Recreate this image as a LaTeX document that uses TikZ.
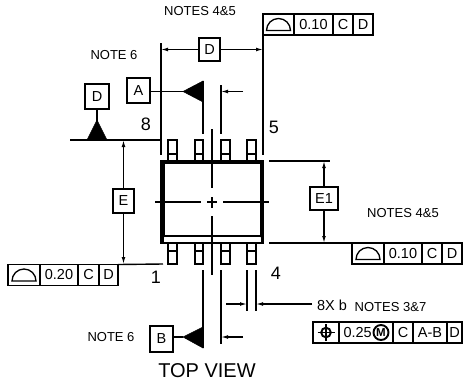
\documentclass[tikz,border=0pt]{standalone}
\usepackage{fontspec}
\setmainfont{Liberation Sans}
\usetikzlibrary{arrows.meta}
\tikzset{
  every node/.style={outer sep=0pt},
  lab/.style={inner sep=0pt,font=\fontsize{#1}{#1}\selectfont},
  lab/.default=13,
  cell/.style={draw,line width=1.3pt,inner sep=0pt,minimum height=21pt,anchor=west,font=\fontsize{14.5}{15}\selectfont},
  datum/.style={draw,line width=1.4pt,inner sep=0pt,font=\fontsize{14.5}{15}\selectfont},
  ext/.style={line width=1.4pt},
  thk/.style={line width=1.7pt},
  dim/.style={line width=1.2pt,-{Latex[length=7pt,width=3.8pt]}},
  plainl/.style={line width=1.3pt},
  lead/.style={draw,line width=1.2pt},
}
\newcommand{\semi}[2]{\draw[line width=1.3pt] ([xshift=-12pt,yshift=-6pt]#1) arc[start angle=180,end angle=0,radius=12pt] -- cycle;}
\begin{document}
\begin{tikzpicture}[x=1pt,y=-1pt]
\useasboundingbox (0,0) rectangle (463,381);
% package body
\draw[line width=1.8pt] (161,161) rectangle (263,243);
\draw[line width=1.3pt] (164,163) rectangle (261,236);
\draw[line width=2pt] (162.5,161) -- (162.5,243) (262,161) -- (262,243);
\draw[line width=1pt] (164,236) -- (161,243) (261,236) -- (263,243);
% leads
\foreach \a/\b in {168/177,195/203,221/230,247/256}{
  \draw[lead] (\a,161) -- (\a,140) -- (\b,140) -- (\b,161) (\a,154) -- (\b,154);
  \draw[lead] (\a,243) -- (\a,264) -- (\b,264) -- (\b,243) (\a,251) -- (\b,251);
}
% centre lines
\draw[plainl] (212,129) -- (212,188) (212,197) -- (212,208) (212,216) -- (212,275);
\draw[plainl] (155,202) -- (201,202) (207,202) -- (217,202) (223,202) -- (269,202);

% datum nodes
\node[datum,minimum width=21pt,minimum height=23pt] (D) at (209.5,49.5) {D};
\node[datum,minimum width=23pt,minimum height=25pt] (A) at (138.5,90.5) {A};
\node[datum,minimum width=24pt,minimum height=25pt] (DL) at (97,96.5) {D};
\node[datum,minimum width=21pt,minimum height=24pt] (E) at (123.5,201) {E};
\node[datum,minimum width=28pt,minimum height=23pt] (E1) at (324,198.5) {E1};
\node[datum,minimum width=23pt,minimum height=26pt] (B) at (161.5,339) {B};

% top FCF
\node[cell,minimum width=31pt] (t1) at (263,24.5) {};
\node[cell,minimum width=39pt] (t2) at (t1.east) {0.10};
\node[cell,minimum width=20pt] (t3) at (t2.east) {C};
\node[cell,minimum width=20pt] (t4) at (t3.east) {D};
\semi{t1.center}{}
% right FCF
\node[cell,minimum width=32pt] (r1) at (352,253.5) {};
\node[cell,minimum width=38pt] (r2) at (r1.east) {0.10};
\node[cell,minimum width=20pt] (r3) at (r2.east) {C};
\node[cell,minimum width=20pt] (r4) at (r3.east) {D};
\semi{r1.center}{}
% left FCF
\node[cell,minimum width=32pt] (l1) at (8,275) {};
\node[cell,minimum width=38pt] (l2) at (l1.east) {0.20};
\node[cell,minimum width=21pt] (l3) at (l2.east) {C};
\node[cell,minimum width=19pt] (l4) at (l3.east) {D};
\semi{l1.center}{}
% position FCF
\node[cell,minimum width=26pt] (p1) at (313,332.5) {};
\node[cell,minimum width=54pt,align=left] (p2) at (p1.east) {};
\node[cell,minimum width=20pt] (p3) at (p2.east) {C};
\node[cell,minimum width=34pt] (p4) at (p3.east) {A-B};
\node[cell,minimum width=15pt] (p5) at (p4.east) {D};
\node[lab=14.5,anchor=west] (p2t) at ([xshift=4.5pt]p2.west) {0.25};
\node[draw,circle,line width=1.9pt,inner sep=0pt,minimum size=15pt,font=\fontsize{11.5}{12}\selectfont\bfseries] (pm) at (381,332.5) {M};
\draw[line width=1.9pt] (p1.center) circle[radius=4.8pt];
\draw[line width=1.9pt] ([xshift=-8.5pt]p1.center) -- ([xshift=8.5pt]p1.center) ([yshift=-8.5pt]p1.center) -- ([yshift=8.5pt]p1.center);

% coordinates
\coordinate (dl) at (161,49.5);
\coordinate (dr) at (263,49.5);
\coordinate (extLT) at (161,43);
\coordinate (extLB) at (161,155);
\coordinate (extRB) at (263,155);
\coordinate (hL8a) at (70,140);
\coordinate (hL8b) at (162,140);
\coordinate (hL1b) at (163,264);
\coordinate (eT) at (123.5,140);
\coordinate (eB) at (123.5,264);
\coordinate (hR5a) at (269,161);
\coordinate (hR5b) at (330,161);
\coordinate (hR4a) at (269,243);
\coordinate (e1T) at (324,161);
\coordinate (e1B) at (324,243);
\coordinate (aTip) at (183,91.5);
\coordinate (bTip) at (183,337);

% extension lines
\draw[ext] (extLT) -- (extLB);
\draw[ext] (t1.south west) -- (extRB);
\draw[ext] (hL8a) -- (hL8b);
\draw[ext] (l4.north east) -- (hL1b);
\draw[ext] (hR5a) -- (hR5b);
\draw[ext] (hR4a) -- (r1.north west);
% dimensions
\draw[dim] (D.west) -- (dl);
\draw[dim] (D.east) -- (dr);
\draw[dim] (E.north) -- (eT);
\draw[dim] (E.south) -- (eB);
\draw[dim] (E1.north) -- (e1T);
\draw[dim] (E1.south) -- (e1B);
% datum D
\draw[thk] (DL.south) -- (97,122);
\draw[fill=black,line width=.5pt] (97,120) -- (107,140) -- (87,140) -- cycle;
% datum A
\draw[thk] (A.east |- aTip) -- (aTip);
\draw[fill=black,line width=.5pt] (aTip) -- (203,81) -- (203,102) -- cycle;
\draw[thk] (203,81) -- (203,134);
\draw[thk] (221,85) -- (221,134);
\coordinate (aR) at (243,91.5);
\coordinate (aRt) at (221,91.5);
\draw[dim] (aR) -- (aRt);
% datum B
\draw[thk] (B.east |- bTip) -- (bTip);
\draw[fill=black,line width=.5pt] (bTip) -- (203,327) -- (203,348) -- cycle;
\draw[thk] (203,270) -- (203,348);
\draw[thk] (221,270) -- (221,344);
\coordinate (bR) at (243,337);
\coordinate (bRt) at (221,337);
\draw[dim] (bR) -- (bRt);
% b width
\draw[ext] (247,270) -- (247,311);
\draw[ext] (256,270) -- (256,311);
\coordinate (bwL) at (226,304);
\coordinate (bwLt) at (247,304);
\coordinate (bwR) at (312,304);
\coordinate (bwRt) at (256,304);
\draw[dim] (bwL) -- (bwLt);
\draw[dim] (bwR) -- (bwRt);

% labels
\node[lab=13] (n1) at (200,11) {NOTES 4\&5};
\node[lab=13] (n2) at (114,55) {NOTE 6};
\node[lab=13] (n3) at (111,337) {NOTE 6};
\node[lab=13] (n4) at (403,213) {NOTES 4\&5};
\node[lab=13] (n5) at (390.5,307) {NOTES 3\&7};
\node[lab=14.5] (n6) at (332,305) {8X b};
\node[lab=18] (n8) at (146,124) {8};
\node[lab=18] (n5b) at (274,127) {5};
\node[lab=18] (n1b) at (156,277) {1};
\node[lab=18] (n4b) at (276,273) {4};
\node[lab=20] (tv) at (207,371) {TOP VIEW};
\end{tikzpicture}
\end{document}
